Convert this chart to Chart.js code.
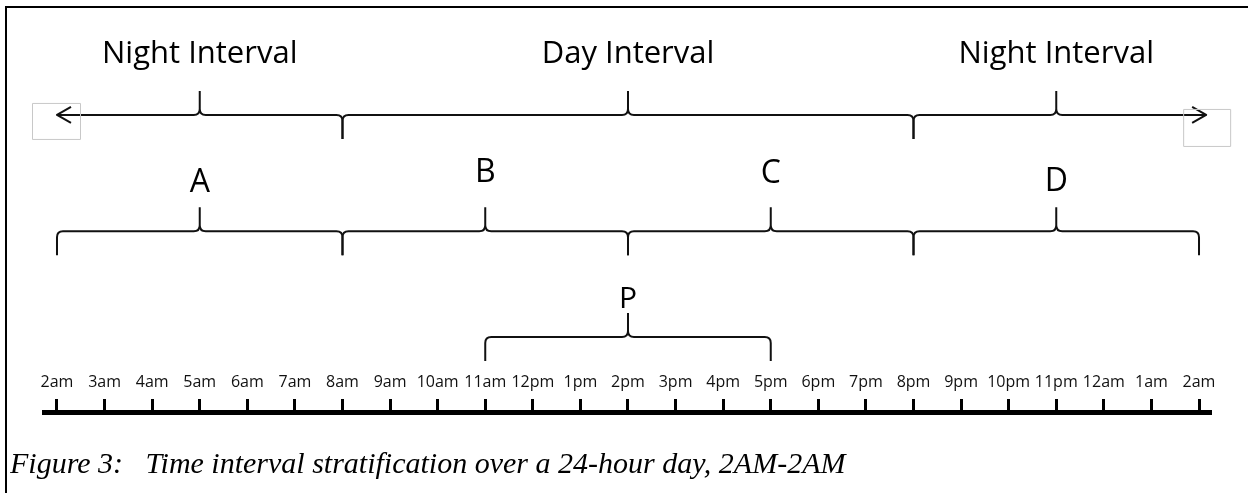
<!DOCTYPE html>
<html>
<head>
<meta charset="utf-8">
<script src="https://cdn.jsdelivr.net/npm/chart.js@4/dist/chart.umd.min.js"></script>
<style>
    html, body { margin: 0; padding: 0; background: #fff; }
    #frame {
        position: absolute; left: 5px; top: 6px; right: 0; bottom: 0;
        border-top: 2px solid #000; border-left: 2px solid #000;
    }
    #wrap { position: absolute; left: 10px; top: 0; width: 1238px; height: 493px; }
</style>
</head>
<body>
<div id="frame"></div>
<div id="wrap"><canvas id="timeChart" width="1238" height="493"></canvas></div>
<script>
// Hour axis, 2am to 2am (hours counted from midnight, 26 = 2am next day)
const hours = [2, 3, 4, 5, 6, 7, 8, 9, 10, 11, 12, 13, 14, 15, 16, 17, 18, 19, 20, 21, 22, 23, 24, 25, 26];
const hourLabels = ['2am', '3am', '4am', '5am', '6am', '7am', '8am', '9am', '10am', '11am', '12pm', '1pm',
    '2pm', '3pm', '4pm', '5pm', '6pm', '7pm', '8pm', '9pm', '10pm', '11pm', '12am', '1am', '2am'];

// Top row: night / day intervals
const intervalNames = ['Night Interval', 'Day Interval', 'Night Interval'];
const intervalStart = [2, 8, 20];
const intervalMid = [5, 14, 23];
const intervalEnd = [8, 20, 26.15];

// Middle row: periods A-D
const periodNames = ['A', 'B', 'C', 'D'];
const periodStart = [2, 8, 14, 20];
const periodMid = [5, 11, 17, 23];
const periodEnd = [8, 14, 20, 26];
const periodTextLevel = [53.5, 55.8, 55.6, 53.6];

// Bottom row: period P
const peakNames = ['P'];
const peakStart = [11];
const peakMid = [14];
const peakEnd = [17];

// row heights (0 = time axis, 100 = top of figure)
const intervalLevel = 72.1;
const intervalTextLevel = 84.7;
const periodLevel = 43.9;
const peakLevel = 18.2;
const peakTextLevel = 25.2;

const datasets = [];

function addBraces(names, starts, mids, ends, level, textLevels, font, leftEnd, rightEnd) {
    names.forEach((name, i) => {
        datasets.push({
            label: name,
            data: [{x: starts[i], y: level}, {x: mids[i], y: level}, {x: ends[i], y: level}],
            textLevel: Array.isArray(textLevels) ? textLevels[i] : textLevels,
            textFont: font,
            leftEnd: i === 0 ? leftEnd : 'hook',
            rightEnd: i === names.length - 1 ? rightEnd : 'hook',
            showLine: false,
            pointRadius: 0
        });
    });
}

addBraces(intervalNames, intervalStart, intervalMid, intervalEnd, intervalLevel, intervalTextLevel, '31px "Open Sans"', 'arrow', 'arrow');
addBraces(periodNames, periodStart, periodMid, periodEnd, periodLevel, periodTextLevel, '32px "Open Sans"', 'hook', 'hook');
addBraces(peakNames, peakStart, peakMid, peakEnd, peakLevel, peakTextLevel, '30px "Open Sans"', 'hook', 'hook');

// Dibuja las llaves con los puntos ya escalados
const bracePlugin = {
    id: 'braces',
    afterDatasetsDraw(chart) {
        const ctx = chart.ctx;
        const yScale = chart.scales.y;
        const h = 24, r = 6;
        ctx.save();
        ctx.strokeStyle = '#111';
        ctx.lineWidth = 2;
        ctx.lineJoin = 'round';
        chart.data.datasets.forEach((ds, i) => {
            const pts = chart.getDatasetMeta(i).data;
            const x0 = pts[0].x, xm = pts[1].x, x1 = pts[2].x, y = pts[1].y;

            ctx.beginPath();
            if (ds.leftEnd === 'arrow') {
                ctx.moveTo(x0, y);
            } else {
                ctx.moveTo(x0, y + h);
                ctx.lineTo(x0, y + r);
                ctx.quadraticCurveTo(x0, y, x0 + r, y);
            }
            ctx.lineTo(xm - r, y);
            ctx.quadraticCurveTo(xm, y, xm, y - r);
            ctx.lineTo(xm, y - h);
            ctx.moveTo(xm, y - r);
            ctx.quadraticCurveTo(xm, y, xm + r, y);
            if (ds.rightEnd === 'arrow') {
                ctx.lineTo(x1, y);
            } else {
                ctx.lineTo(x1 - r, y);
                ctx.quadraticCurveTo(x1, y, x1, y + r);
                ctx.lineTo(x1, y + h);
            }
            ctx.stroke();

            // arrow heads and the little grey boxes round them
            if (ds.leftEnd === 'arrow') {
                ctx.beginPath();
                ctx.moveTo(x0 + 14, y - 8);
                ctx.lineTo(x0, y);
                ctx.lineTo(x0 + 14, y + 8);
                ctx.stroke();
                ctx.save();
                ctx.strokeStyle = '#c8c8c8';
                ctx.lineWidth = 1;
                ctx.strokeRect(x0 - 24.5, y - 11.5, 48, 36);
                ctx.restore();
            }
            if (ds.rightEnd === 'arrow') {
                ctx.beginPath();
                ctx.moveTo(x1 - 14, y - 8);
                ctx.lineTo(x1, y);
                ctx.lineTo(x1 - 14, y + 8);
                ctx.stroke();
                ctx.save();
                ctx.strokeStyle = '#c8c8c8';
                ctx.lineWidth = 1;
                ctx.strokeRect(x1 - 22.5, y - 5.5, 47, 37);
                ctx.restore();
            }

            ctx.fillStyle = '#000';
            ctx.font = ds.textFont;
            ctx.textAlign = 'center';
            ctx.textBaseline = 'alphabetic';
            ctx.fillText(ds.label, xm, yScale.getPixelForValue(ds.textLevel));
        });
        ctx.restore();
    }
};

new Chart(document.getElementById('timeChart'), {
    type: 'scatter',
    data: { datasets: datasets },
    options: {
        responsive: false,
        devicePixelRatio: 1,
        animation: false,
        layout: { padding: { left: 0, right: 37, top: 0, bottom: 0 } },
        plugins: {
            legend: { display: false },
            tooltip: { enabled: false },
            title: {
                display: true,
                text: 'Figure 3:   Time interval stratification over a 24-hour day, 2AM-2AM',
                position: 'bottom',
                align: 'start',
                color: '#000',
                font: { family: '"Liberation Serif", "Times New Roman", serif', size: 30, style: 'italic', weight: 'normal', lineHeight: 1.2 },
                padding: { top: 0, bottom: 10 }
            }
        },
        scales: {
            x: {
                type: 'linear',
                position: 'bottom',
                min: 1.727,
                max: 26.252,
                afterBuildTicks: (scale) => { scale.ticks = hours.map(v => ({ value: v })); },
                afterFit: (scale) => { scale.height = 35; },
                ticks: {
                    autoSkip: false,
                    maxRotation: 0,
                    mirror: true,
                    padding: 20,
                    color: '#111',
                    font: { family: '"Open Sans"', size: 16 },
                    callback: (v, i) => hourLabels[i]
                },
                grid: { drawOnChartArea: false, tickLength: -13, tickWidth: 3, tickColor: '#000' },
                border: { display: true, width: 5, color: '#000' }
            },
            y: {
                min: 0,
                max: 100,
                afterFit: (scale) => { scale.width = 34; },
                ticks: { display: false },
                grid: { display: false },
                border: { display: false }
            }
        }
    },
    plugins: [bracePlugin]
});
</script>
</body>
</html>
